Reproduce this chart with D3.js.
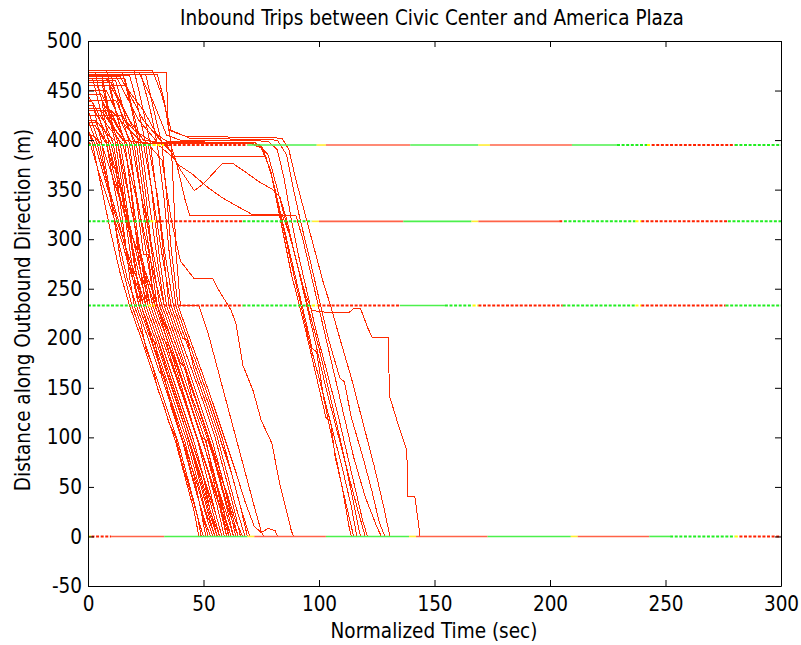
<!DOCTYPE html>
<html><head><meta charset="utf-8">
<script src="https://cdn.jsdelivr.net/npm/d3@7"></script>
<style>
body{margin:0;background:#fff}
text{font-family:"Liberation Sans Narrow","Arial Narrow","DejaVu Sans Condensed",sans-serif;fill:#000}
</style>
</head><body>
<svg id="chart" width="801" height="645"></svg>
<script>
// ---------- labels / ticks ----------
const titleText = "Inbound Trips between Civic Center and America Plaza";
const xLabel = "Normalized Time (sec)";
const yLabel = "Distance along Outbound Direction (m)";
const xTicks = [0, 50, 100, 150, 200, 250, 300];
const yTicks = [-50, 0, 50, 100, 150, 200, 250, 300, 350, 400, 450, 500];

// ---------- signal phases: [start sec, end sec, phase, style] ----------
const signalDistances = [395, 318, 233, 0];
const signalAt395 = [[0,28,"G","dot"],[28,33,"Y","dot"],[33,69,"R","dot"],[69,99,"G","solid"],[99,103,"Y","solid"],[103,139.5,"R","solid"],[139.5,169,"G","solid"],[169,174,"Y","solid"],[174,209.5,"R","solid"],[209.5,229,"G","solid"],[229,242,"G","dot"],[242,244,"Y","dot"],[244,280,"R","dot"],[280,300,"G","dot"]];
const signalAt318 = [[0,27,"G","dot"],[27,29.5,"Y","dot"],[29.5,67,"R","dot"],[67,97,"G","dot"],[97,100,"Y","solid"],[100,136.5,"R","solid"],[136.5,166,"G","solid"],[166,169,"Y","solid"],[169,204,"R","solid"],[204,206,"R","dot"],[206,237,"G","dot"],[237,239.5,"Y","dot"],[239.5,277,"R","dot"],[277,300,"G","dot"]];
const signalAt233 = [[0,26,"G","dot"],[26,29,"Y","dot"],[29,67,"R","dot"],[67,97,"G","dot"],[97,99.5,"Y","dot"],[99.5,135,"R","dot"],[135,154.5,"G","solid"],[154.5,166.5,"G","dot"],[166.5,169,"Y","dot"],[169,205.5,"R","dot"],[205.5,237,"G","dot"],[237,239.5,"Y","dot"],[239.5,276,"R","dot"],[276,300,"G","dot"]];
const signalAt0 = [[0,1.5,"Y","dot"],[1.5,10,"R","dot"],[10,33,"R","solid"],[33,69,"G","solid"],[69,72,"Y","solid"],[72,103,"R","solid"],[103,139,"G","solid"],[139,142,"Y","solid"],[142,173,"R","solid"],[173,209,"G","solid"],[209,212,"Y","solid"],[212,243,"R","solid"],[243,252,"G","solid"],[252,280,"G","dot"],[280,282,"Y","dot"],[282,300,"R","dot"]];

// ---------- trips: [sec, metres] ----------
const fastTrips = [
 [[0,468],[3,468],[6,440],[9,396],[11,372],[12,372],[16,300],[18,262],[20,233],[23,214],[25,190],[28,172],[30,150],[33,131],[35,115],[38,100],[40,80],[45,40],[48,15],[50,0]],
 [[0,465],[6,465],[9,430],[13,396],[17,330],[20,280],[23,233],[28,195],[33,160],[38,120],[43,80],[47,45],[50,18],[52,0]],
 [[0,462],[2,462],[6,425],[11,396],[15,340],[19,275],[22,233],[27,200],[29,196],[32,160],[37,125],[42,90],[47,55],[51,22],[54,0]],
 [[0,470],[8,470],[12,430],[16,396],[19,340],[22,280],[25,233],[30,200],[35,160],[40,125],[45,85],[49,50],[53,15],[55,0]],
 [[0,440],[2,438],[6,396],[10,340],[14,280],[19,233],[24,200],[29,165],[34,130],[39,95],[43,60],[47,25],[49,0]],
 [[0,430],[5,396],[9,350],[13,300],[17,260],[21,233],[26,200],[31,165],[33,162],[36,130],[41,95],[45,60],[50,20],[53,0]],
 [[0,420],[4,396],[8,360],[13,320],[18,275],[24,233],[29,200],[34,165],[39,130],[44,95],[49,55],[53,20],[56,0]],
 [[0,415],[3,415],[8,396],[13,350],[18,305],[22,265],[26,233],[31,200],[36,165],[41,130],[46,95],[50,60],[54,25],[57,0]],
 [[0,465],[10,465],[14,430],[18,396],[21,340],[24,285],[26,285],[28,250],[30,233],[33,208],[38,170],[43,132],[48,92],[52,55],[55,25],[58,0]],
 [[0,460],[12,460],[16,425],[20,396],[23,345],[27,280],[30,233],[35,200],[40,165],[45,130],[50,95],[54,60],[57,30],[60,0]],
 [[0,468],[15,468],[19,430],[22,396],[25,345],[28,280],[31,233],[36,200],[41,165],[46,130],[51,95],[55,60],[59,25],[61,0]],
 [[0,455],[4,455],[9,420],[14,396],[18,340],[23,280],[27,233],[32,200],[37,168],[42,135],[47,100],[52,65],[56,30],[59,0]],
 [[0,435],[2,435],[6,415],[10,396],[15,345],[20,295],[22,290],[25,260],[29,233],[34,200],[39,170],[44,135],[49,100],[54,65],[58,30],[62,0]],
 [[0,410],[3,396],[8,355],[13,315],[18,280],[22,255],[25,233],[30,200],[35,165],[40,130],[45,95],[50,60],[55,25],[58,0]],
 [[0,425],[5,425],[10,410],[15,396],[20,350],[25,300],[29,260],[32,233],[37,200],[42,168],[47,135],[52,100],[56,65],[60,30],[63,0]],
 [[0,465],[18,465],[21,440],[25,396],[28,340],[31,280],[34,233],[39,200],[44,165],[49,130],[54,95],[58,60],[61,30],[64,0]],
 [[0,470],[20,470],[23,440],[27,396],[30,340],[33,280],[35,233],[40,200],[45,168],[50,135],[55,100],[59,65],[63,30],[66,0]],
 [[0,450],[8,450],[13,425],[19,396],[23,345],[27,300],[30,265],[33,233],[38,200],[43,165],[48,130],[53,95],[58,60],[62,25],[65,0]],
 [[0,405],[2,405],[6,396],[11,360],[16,325],[21,290],[26,260],[30,233],[35,205],[40,175],[42,170],[45,140],[50,110],[55,75],[60,45],[64,15],[67,0]],
 [[0,430],[10,430],[16,415],[24,396],[28,345],[32,285],[36,233],[41,200],[43,198],[46,168],[51,135],[56,100],[60,65],[64,30],[68,0]],
 [[0,466],[23,466],[27,430],[30,396],[33,340],[35,290],[38,233],[43,200],[48,168],[53,135],[58,100],[62,65],[66,30],[70,0]],
 [[0,468],[34,468],[34.5,420],[36,396],[37,350],[38,290],[40,233],[48,233],[52,205],[56,170],[60,135],[64,100],[68,65],[72,30],[75,5],[76,0]],
 [[0,440],[12,440],[16,420],[21,396],[24,345],[28,280],[31,233],[36,200],[41,165],[46,130],[51,95],[55,60],[58,25],[60,0]],
 [[0,420],[3,420],[6,405],[9,396],[14,350],[19,305],[23,265],[27,233],[32,200],[34,196],[37,168],[42,135],[47,100],[52,65],[57,30],[61,0]],
 [[0,458],[6,458],[9,425],[12,396],[16,335],[20,275],[24,233],[29,200],[34,165],[39,130],[44,95],[49,60],[53,25],[57,0]],
 [[0,445],[4,430],[8,396],[12,345],[17,285],[22,233],[27,200],[32,165],[37,130],[42,95],[46,60],[49,25],[51,0]],
 [[0,412],[2,396],[6,350],[10,305],[14,265],[18,233],[23,200],[28,165],[33,130],[38,95],[42,60],[46,25],[48,0]],
 [[0,462],[16,462],[20,425],[23,396],[26,345],[30,280],[33,233],[38,200],[43,165],[48,130],[53,95],[57,60],[61,25],[65,0]],
 [[0,430],[7,430],[12,410],[17,396],[21,345],[25,290],[29,233],[34,200],[39,168],[44,135],[49,100],[51,98],[54,65],[59,30],[63,0]],
 [[0,400],[1,396],[5,365],[10,330],[15,295],[19,262],[23,233],[28,200],[33,165],[38,130],[43,95],[47,60],[51,25],[55,0]],
 [[0,466],[25,466],[29,425],[32,396],[34,345],[36,290],[39,233],[44,200],[49,168],[54,135],[59,100],[64,65],[68,35],[72,10],[75,4],[78,8],[81,6],[82,0]],
 [[0,425],[14,425],[20,410],[26,396],[30,345],[33,290],[37,233],[42,200],[47,168],[52,135],[57,100],[62,65],[66,30],[69,0]],
 [[0,455],[9,455],[13,420],[16,396],[19,345],[23,280],[26,233],[31,200],[36,165],[41,130],[46,95],[50,60],[53,25],[56,0]],
 [[0,418],[4,418],[9,405],[13,396],[17,350],[21,305],[25,265],[28,233],[33,200],[38,165],[43,130],[48,95],[53,60],[58,25],[62,0]]
];
const slowTrips = [
 [[0,462],[8,462],[18,420],[24,400],[30,398],[72,398],[76,390],[80,360],[84,320],[88,280],[92,240],[97,190],[99,186],[102,140],[106,95],[110,50],[113,10],[114,0]],
 [[0,455],[16,455],[24,430],[30,405],[34,399],[70,397],[75,392],[79,370],[82,335],[85,300],[88,265],[91,238],[95,200],[99,160],[103,120],[105,116],[107,80],[111,40],[114,10],[115,0]],
 [[0,468],[22,468],[28,440],[34,405],[40,400],[78,399],[82,390],[85,360],[88,320],[91,285],[95,245],[99,205],[103,170],[108,125],[112,85],[116,45],[119,15],[121,0]],
 [[0,470],[28,470],[32,445],[36,410],[44,402],[82,400],[86,385],[89,350],[92,318],[96,280],[100,240],[104,200],[109,160],[111,156],[114,120],[119,80],[123,45],[126,15],[128.5,0]],
 [[0,466],[30,466],[33,440],[35,410],[42,404],[84,402],[87,390],[90,360],[94,325],[98,290],[102,255],[105,233],[109,200],[114,160],[119,115],[124,70],[128,30],[130.7,0]],
 [[0,464],[14,464],[24,420],[32,398],[38,383],[77,383],[80,360],[84,318],[88,275],[92,235],[96,195],[100,160],[105,115],[110,70],[114,30],[116,5],[116.5,0]],
 [[0,465],[12,465],[22,420],[30,398],[36,394],[38.5,376],[45,366],[52,352],[58,342],[64,334],[71,325],[84,325],[88,300],[92,260],[96,225],[100,190],[105,140],[110,90],[114,45],[117,10],[118,0]],
 [[0,458],[10,458],[20,410],[28,398],[34,396],[40,370],[46,349],[50,356],[54,366],[58,376],[63,376],[68,368],[74,358],[80,350],[83,343],[86,320],[90,280],[94,240],[98,200],[103,150],[108,105],[113,60],[117,25],[120,0]],
 [[0,432],[5,432],[15,400],[30,396],[38,380],[42,340],[44,324],[90,324],[93,300],[97,260],[101,220],[105,180],[110,130],[115,80],[120,40],[125,10],[127,0]],
 [[0,446],[6,446],[16,400],[24,397],[74,396],[78,385],[82,350],[86,315],[90,280],[94,245],[97,228],[104,226],[113,226],[115,230],[118,230],[121,211],[123,201],[130,201],[130.5,142],[134,115],[138,87],[138.5,40],[141.5,40],[143.5,5],[143.7,0]],
 [[0,440],[6,440],[16,400],[26,396],[32,380],[36,320],[40,278],[46,260],[54,260],[56,251],[62,228],[64,215],[67,173],[71.5,147],[75,117],[79.6,94],[83,53],[88,6],[89,0]]
];

// ---------- drawing ----------
const svg = d3.select("#chart");
const x = d3.scaleLinear().domain([0, 300]).range([88, 781]);
const y = d3.scaleLinear().domain([-50, 500]).range([586, 41]);

const plot = svg.append("g");
plot.append("clipPath").attr("id","clip").append("rect")
  .attr("x", 88).attr("y", 41).attr("width", 693).attr("height", 545);

const line = d3.line().x(d => x(d[0])).y(d => y(d[1]));
const tripG = plot.append("g").attr("clip-path","url(#clip)");
tripG.selectAll("path.trip").data(fastTrips.concat(slowTrips)).join("path")
  .attr("class","trip").attr("d", line)
  .attr("fill","none").attr("stroke","#ff2a00").attr("stroke-width",1)
  .attr("shape-rendering","crispEdges");

// signal bars
const phaseColor = {
  G: {solid:"#4cf04c", dot:"#22ee22"},
  Y: {solid:"#ffee33", dot:"#ffff00"},
  R: {solid:"#ff6347", dot:"#ff2200"}
};
const signalLists = [signalAt395, signalAt318, signalAt233, signalAt0];
const segs = [];
signalLists.forEach((lst, i) => lst.forEach(s => segs.push({d: signalDistances[i], t0: s[0], t1: s[1], p: s[2], st: s[3]})));
plot.append("g").selectAll("line").data(segs).join("line")
  .attr("x1", s => x(s.t0)).attr("x2", s => x(s.t1))
  .attr("y1", s => y(s.d)).attr("y2", s => y(s.d))
  .attr("stroke", s => phaseColor[s.p][s.st])
  .attr("stroke-width", s => s.st === "dot" ? 2 : 1.6)
  .attr("stroke-dasharray", s => s.st === "dot" ? "3,1.6" : null);

// axes (MATLAB style box with inward ticks)
const fontSize = 20.5;
const fmt = d => String(d);
const axB = svg.append("g").attr("transform","translate(0,586)")
  .call(d3.axisBottom(x).tickValues(xTicks).tickFormat(fmt).tickSizeInner(-6).tickSizeOuter(0).tickPadding(10));
const axT = svg.append("g").attr("transform","translate(0,41)")
  .call(d3.axisTop(x).tickValues(xTicks).tickSizeInner(-6).tickSizeOuter(0).tickFormat(""));
const axL = svg.append("g").attr("transform","translate(88,0)")
  .call(d3.axisLeft(y).tickValues(yTicks).tickFormat(fmt).tickSizeInner(-6).tickSizeOuter(0).tickPadding(6));
const axR = svg.append("g").attr("transform","translate(781,0)")
  .call(d3.axisRight(y).tickValues(yTicks).tickSizeInner(-6).tickSizeOuter(0).tickFormat(""));
[axB, axT, axL, axR].forEach(a => {
  a.select(".domain").attr("stroke","#000").attr("stroke-width",1);
  a.selectAll(".tick line").attr("stroke","#000");
  a.selectAll("text").attr("font-size", fontSize).attr("font-family", null).attr("fill","#000");
});

svg.append("text").attr("x", 432).attr("y", 25).attr("text-anchor","middle")
  .attr("font-size", fontSize).text(titleText);
svg.append("text").attr("x", 434).attr("y", 638).attr("text-anchor","middle")
  .attr("font-size", fontSize).text(xLabel);
svg.append("text").attr("transform","translate(30,310) rotate(-90)").attr("text-anchor","middle")
  .attr("font-size", fontSize).text(yLabel);
</script>
</body></html>
